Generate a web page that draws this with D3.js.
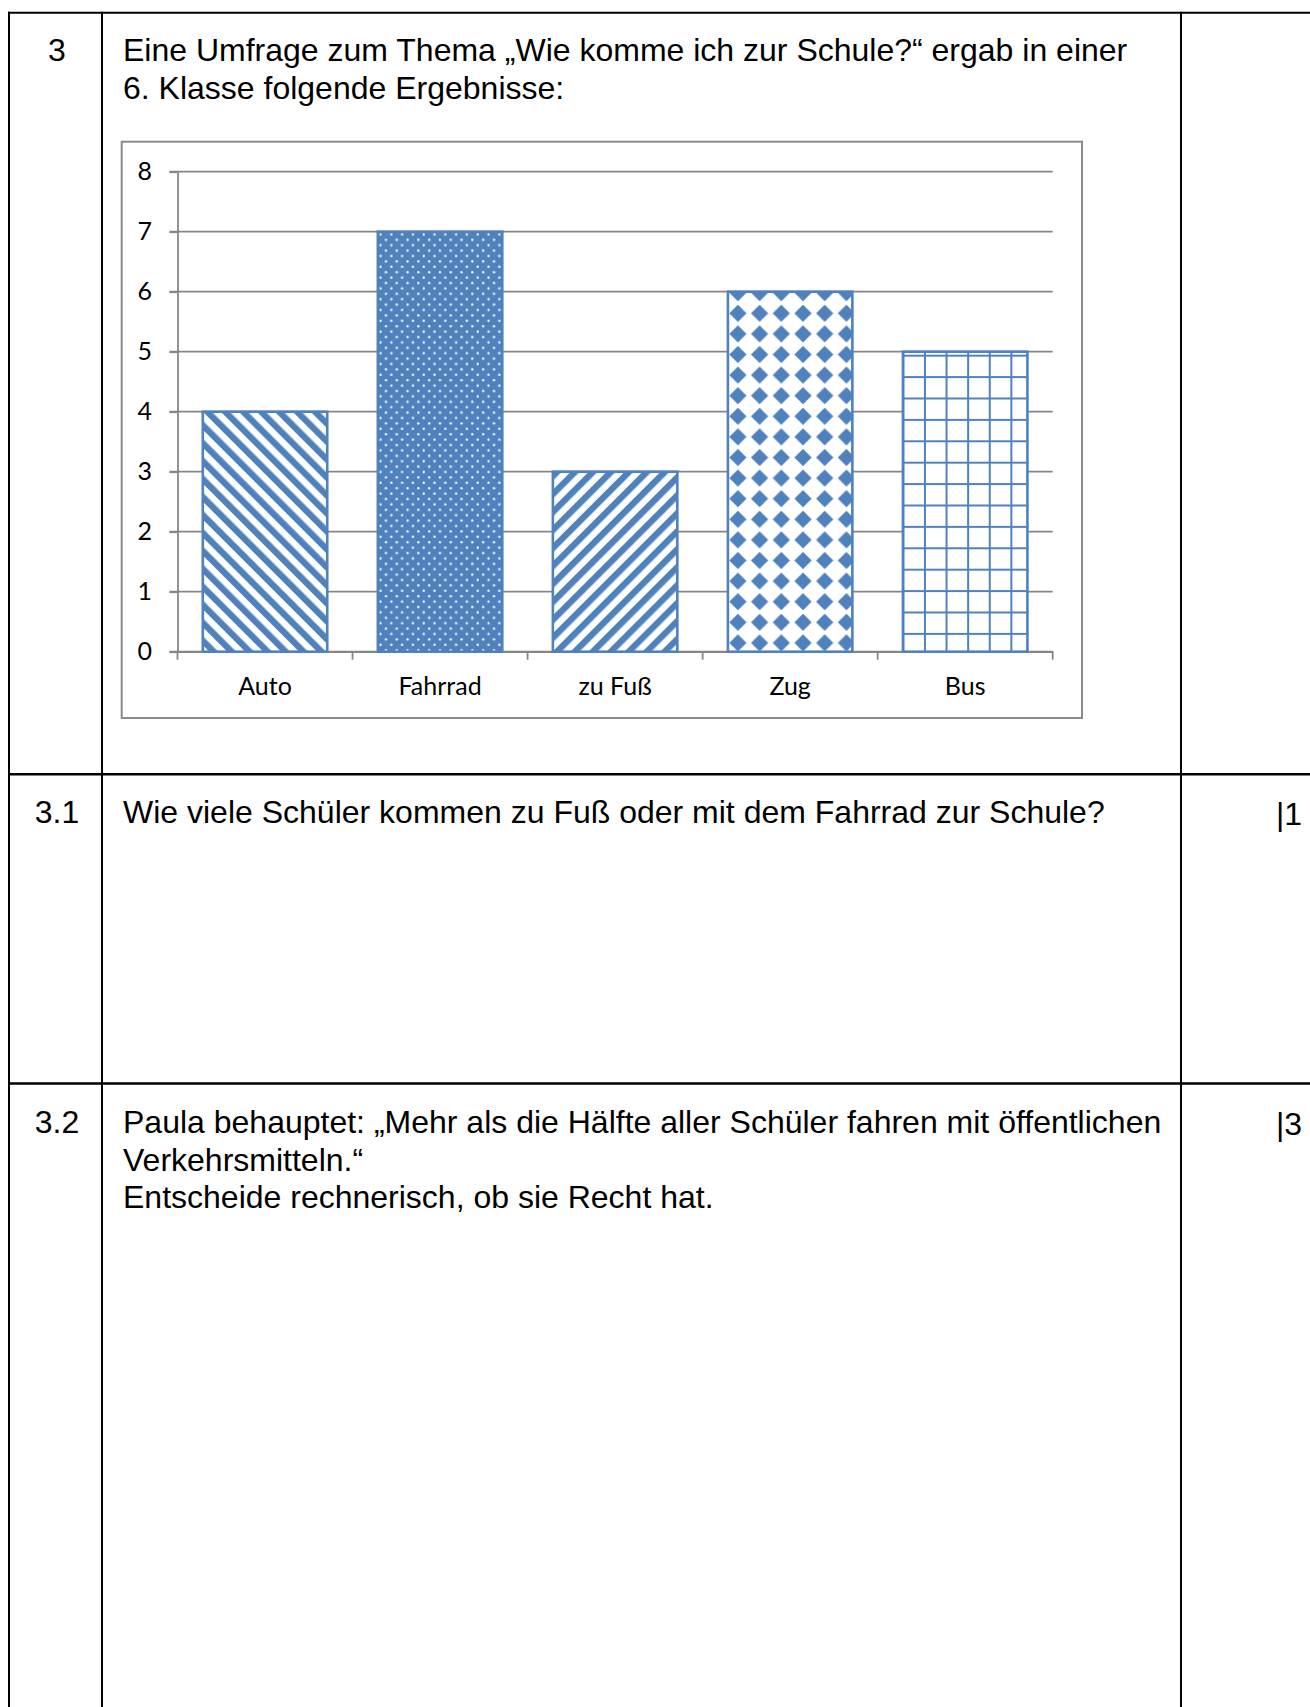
<!DOCTYPE html>
<html>
<head>
<meta charset="utf-8">
<script src="https://cdn.jsdelivr.net/npm/d3@7"></script>
<style>
  body { margin: 0; background: #fff; }
  svg { display: block; }
</style>
</head>
<body>
<svg id="page" width="1310" height="1707"></svg>
<script>
// survey data
const categories = ["Auto", "Fahrrad", "zu Fuß", "Zug", "Bus"];
const values = [4, 7, 3, 6, 5];
const yTicks = [0, 1, 2, 3, 4, 5, 6, 7, 8];
const fills = ["diagDown", "dots", "diagUp", "diamonds", "grid"];

// worksheet text
const taskNumbers = ["3", "3.1", "3.2"];
const taskLines = [
    ["Eine Umfrage zum Thema „Wie komme ich zur Schule?“ ergab in einer", "6. Klasse folgende Ergebnisse:"],
    ["Wie viele Schüler kommen zu Fuß oder mit dem Fahrrad zur Schule?"],
    ["Paula behauptet: „Mehr als die Hälfte aller Schüler fahren mit öffentlichen", "Verkehrsmitteln.“", "Entscheide rechnerisch, ob sie Recht hat."]
];
const taskPoints = ["", "|1", "|3"];

const svg = d3.select("#page");
const blue = "#4f81bd";
const grey = "#868686";

// ---- table ----
const rowTops = [12.7, 774.3, 1083.5];
const baselines = [61, 823, 1133];
const table = svg.append("g").attr("stroke", "#000").attr("stroke-width", 2);
table.append("line").attr("x1", 8).attr("x2", 1310).attr("y1", rowTops[0]).attr("y2", rowTops[0]);
rowTops.slice(1).forEach(y => {
    table.append("line").attr("x1", 8).attr("x2", 1310).attr("y1", y).attr("y2", y).attr("stroke-width", 2.5);
});
[9, 102, 1181].forEach(x => {
    table.append("line").attr("x1", x).attr("x2", x).attr("y1", 11.7).attr("y2", 1707);
});

const txt = svg.append("g")
    .attr("font-family", "'Liberation Sans', Arial, sans-serif")
    .attr("font-size", 32)
    .attr("fill", "#000");

taskNumbers.forEach((n, i) => {
    txt.append("text").attr("x", 57).attr("y", baselines[i]).attr("text-anchor", "middle").text(n);
    taskLines[i].forEach((line, j) => {
        txt.append("text").attr("x", 123).attr("y", baselines[i] + j * 37.5).text(line);
    });
    if (taskPoints[i]) {
        txt.append("text").attr("x", 1276).attr("y", baselines[i] + 2).text(taskPoints[i]);
    }
});

// ---- chart ----
svg.append("rect")
    .attr("x", 121.7).attr("y", 141.7)
    .attr("width", 960.3).attr("height", 576.3)
    .attr("fill", "#fff").attr("stroke", "#8a8a8a").attr("stroke-width", 2);

const x = d3.scaleBand()
    .domain(categories)
    .range([177.5, 1052.7])
    .paddingInner(0.289)
    .paddingOuter(0.1445);

const y = d3.scaleLinear()
    .domain([0, 8])
    .range([651.7, 171.7]);

const chart = svg.append("g");

// gridlines
chart.append("g")
    .selectAll("line")
    .data(yTicks)
    .join("line")
    .attr("x1", 169.5)
    .attr("x2", x.range()[1])
    .attr("y1", d => y(d))
    .attr("y2", d => y(d))
    .attr("stroke", grey)
    .attr("stroke-width", 1.8);

// y axis
const yAxis = chart.append("g")
    .attr("transform", `translate(${x.range()[0]},0)`)
    .call(d3.axisLeft(y).tickValues(yTicks).tickSize(8).tickSizeOuter(0).tickPadding(17.5));
yAxis.select(".domain").attr("stroke", grey).attr("stroke-width", 1.8);
yAxis.selectAll(".tick line").attr("stroke", grey).attr("stroke-width", 1.8);
yAxis.selectAll("text")
    .attr("font-family", "Lato, 'Open Sans', sans-serif")
    .attr("font-size", 25)
    .attr("fill", "#000");

// x axis: labels centred, ticks on category boundaries
const xAxis = chart.append("g")
    .attr("transform", `translate(0,${y(0)})`)
    .call(d3.axisBottom(x).tickSize(0).tickSizeOuter(0));
xAxis.select(".domain").attr("stroke", grey).attr("stroke-width", 1.8);
xAxis.selectAll("text")
    .attr("y", 43)
    .attr("dy", null)
    .attr("font-family", "Lato, 'Open Sans', sans-serif")
    .attr("font-size", 25)
    .attr("fill", "#000");

const gap = (x.step() - x.bandwidth()) / 2;
const bounds = categories.map(c => x(c) - gap).concat([x(categories[categories.length - 1]) + x.bandwidth() + gap]);
chart.append("g")
    .selectAll("line")
    .data(bounds)
    .join("line")
    .attr("x1", d => d).attr("x2", d => d)
    .attr("y1", y(0)).attr("y2", y(0) + 8)
    .attr("stroke", grey).attr("stroke-width", 1.8);

// pattern fills, one per bar, anchored to the bar
const defs = svg.append("defs");

function makePattern(kind, i, bx, by) {
    const id = "pat" + i;
    let p;
    if (kind === "diagDown" || kind === "diagUp") {
        const w = 12.7;
        p = defs.append("pattern").attr("id", id)
            .attr("patternUnits", "userSpaceOnUse")
            .attr("width", w).attr("height", w)
            .attr("x", bx).attr("y", by)
            .attr("patternTransform", `rotate(${kind === "diagDown" ? -45 : 45} ${bx} ${by})`);
        p.append("rect").attr("width", w).attr("height", w).attr("fill", "#fff");
        p.append("rect").attr("width", w / 2).attr("height", w).attr("fill", blue);
    } else if (kind === "dots") {
        const w = 10.8;
        p = defs.append("pattern").attr("id", id)
            .attr("patternUnits", "userSpaceOnUse")
            .attr("width", w).attr("height", w)
            .attr("x", bx).attr("y", by);
        p.append("rect").attr("width", w).attr("height", w).attr("fill", blue);
        p.append("circle").attr("cx", w / 4).attr("cy", w / 4).attr("r", 1.2).attr("fill", "#f4f7fb");
        p.append("circle").attr("cx", 3 * w / 4).attr("cy", 3 * w / 4).attr("r", 1.2).attr("fill", "#f4f7fb");
    } else if (kind === "diamonds") {
        const w = 21.7, h = 20.6;
        p = defs.append("pattern").attr("id", id)
            .attr("patternUnits", "userSpaceOnUse")
            .attr("width", w).attr("height", h)
            .attr("x", bx + 10 - w / 2).attr("y", by + 1 - h / 2);
        p.append("rect").attr("width", w).attr("height", h).attr("fill", "#fff");
        const cx = w / 2, cy = h / 2, r = 8.6;
        p.append("path")
            .attr("d", `M${cx},${cy - r}L${cx + r},${cy}L${cx},${cy + r}L${cx - r},${cy}Z`)
            .attr("fill", blue);
    } else {
        const w = 21.6, h = 21.4;
        p = defs.append("pattern").attr("id", id)
            .attr("patternUnits", "userSpaceOnUse")
            .attr("width", w).attr("height", h)
            .attr("x", bx - 0.6).attr("y", by + 3);
        p.append("rect").attr("width", w).attr("height", h).attr("fill", "#fff");
        p.append("rect").attr("x", 0).attr("y", 0).attr("width", 2).attr("height", h).attr("fill", blue);
        p.append("rect").attr("x", 0).attr("y", 0).attr("width", w).attr("height", 2).attr("fill", blue);
    }
    return "url(#" + id + ")";
}

chart.append("g")
    .selectAll("rect")
    .data(categories)
    .join("rect")
    .attr("x", d => x(d))
    .attr("y", (d, i) => y(values[i]))
    .attr("width", x.bandwidth())
    .attr("height", (d, i) => y(0) - y(values[i]))
    .attr("fill", (d, i) => makePattern(fills[i], i, x(d), y(values[i])))
    .attr("stroke", blue)
    .attr("stroke-width", 2.6);
</script>
</body>
</html>
